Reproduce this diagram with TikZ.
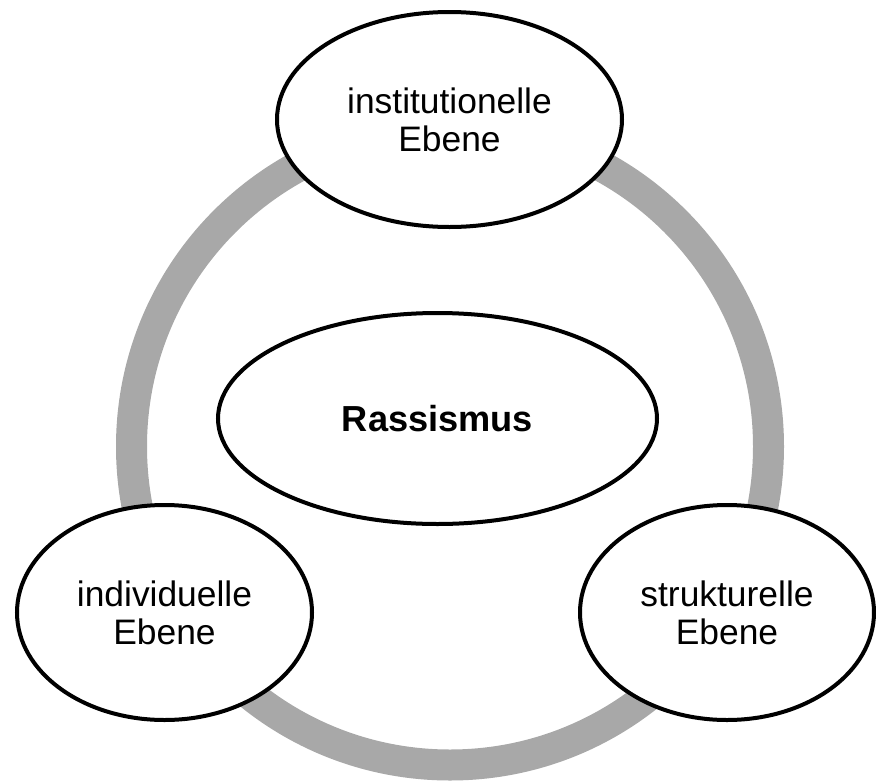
\documentclass[tikz,border=0pt]{standalone}
\usepackage{fontspec}
\setmainfont{Liberation Sans}
\usetikzlibrary{shapes.geometric}
\definecolor{ringgray}{HTML}{A8A8A8}
\begin{document}
\begin{tikzpicture}[x=1pt,y=-1pt,
  lvl/.style={draw=black, line width=4pt, fill=white, ellipse, inner sep=0pt,
    align=center, font=\fontsize{35.4}{38}\selectfont},
  ringstyle/.style={circle, draw=ringgray, line width=31pt, inner sep=0pt}]
\useasboundingbox (0,0) rectangle (876,782);
\node[ringstyle, minimum size=637pt] (ring) at (450,446.5) {};
\node[lvl, minimum width=345pt, minimum height=215pt] (inst) at (449.5,119.5) {institutionelle\\Ebene};
\node[lvl, minimum width=439pt, minimum height=211pt, font=\fontsize{36.2}{38}\selectfont] (rass) at (437.5,418.5) {\textbf{Rassismus}};
\node[lvl, minimum width=295pt, minimum height=215pt] (indiv) at (164.5,612.5) {individuelle\\Ebene};
\node[lvl, minimum width=294pt, minimum height=215pt] (strukt) at (727,612.5) {strukturelle\\Ebene};
\end{tikzpicture}
\end{document}
